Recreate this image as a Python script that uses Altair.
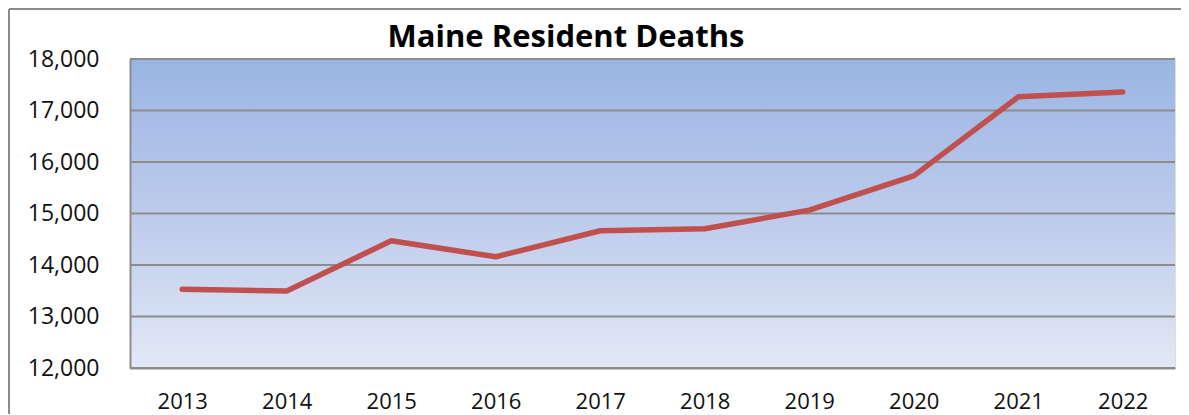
import altair as alt
import pandas as pd

title_text = "Maine Resident Deaths"
years = ["2013", "2014", "2015", "2016", "2017", "2018", "2019", "2020", "2021", "2022"]
deaths = [13530, 13495, 14470, 14160, 14665, 14705, 15065, 15730, 17265, 17360]
grid_values = [12000, 13000, 14000, 15000, 16000, 17000, 18000]

W, H = 1045, 309
FONT = "Open Sans"

df = pd.DataFrame({"year": years, "deaths": deaths})
grid_df = pd.DataFrame({"v": grid_values})
one = pd.DataFrame({"a": [0]})
title_df = pd.DataFrame({"t": [title_text]})

x_enc = alt.X("year:O", scale=alt.Scale(type="point", padding=0.5),
              axis=alt.Axis(title=None, labelAngle=0, ticks=False, grid=False,
                            labelPadding=23, labelFontSize=22, labelFont=FONT,
                            labelColor="#111111", domainColor="#8c8c8c",
                            domainWidth=2, zindex=1))
y_scale = alt.Scale(domain=[12000, 18000], nice=False, zero=False)
y_axis = alt.Axis(title=None, values=grid_values, format=",.0f", ticks=False, grid=False,
                  labelPadding=31, labelFontSize=23, labelFont=FONT,
                  labelColor="#111111", domainColor="#8c8c8c", domainWidth=2, zindex=1)

bg = alt.Chart(one).mark_rect(
    fill=alt.LinearGradient(
        gradient="linear",
        stops=[alt.GradientStop(color="#9ab5e3", offset=0),
               alt.GradientStop(color="#bccbec", offset=0.5),
               alt.GradientStop(color="#e2e8f5", offset=1)],
        x1=0, x2=0, y1=0, y2=1,
    )
).encode(x=alt.value(0), x2=alt.value(W), y=alt.value(0), y2=alt.value(H))

grid = alt.Chart(grid_df).mark_rule(color="#8c8c8c", strokeWidth=2).encode(
    y=alt.Y("v:Q", scale=y_scale, axis=y_axis),
    x=alt.value(0), x2=alt.value(W),
)

line = alt.Chart(df).mark_line(color="#c0504d", strokeWidth=5.5, strokeCap="round",
                               strokeJoin="round").encode(
    x=x_enc,
    y=alt.Y("deaths:Q", scale=y_scale, axis=y_axis),
)

border_top = alt.Chart(one).mark_rule(color="#8c8c8c", strokeWidth=2).encode(
    x=alt.value(-121), x2=alt.value(W + 10), y=alt.value(-50))
border_left = alt.Chart(one).mark_rule(color="#8c8c8c", strokeWidth=2).encode(
    x=alt.value(-121), y=alt.value(-50), y2=alt.value(H + 60))

title = alt.Chart(title_df).mark_text(
    font=FONT, fontSize=31, fontWeight="bold", color="#000000",
    align="center", baseline="alphabetic"
).encode(text="t:N", x=alt.value(436), y=alt.value(-12))

chart = alt.layer(bg, grid, line, border_top, border_left, title).properties(
    width=W, height=H,
    autosize=alt.AutoSizeParams(type="none"),
    padding={"left": 122, "top": 51, "right": 6, "bottom": 46},
).configure_view(stroke=None).configure(background="white")

chart.save("out.html", embed_options={"renderer": "svg", "actions": False})
